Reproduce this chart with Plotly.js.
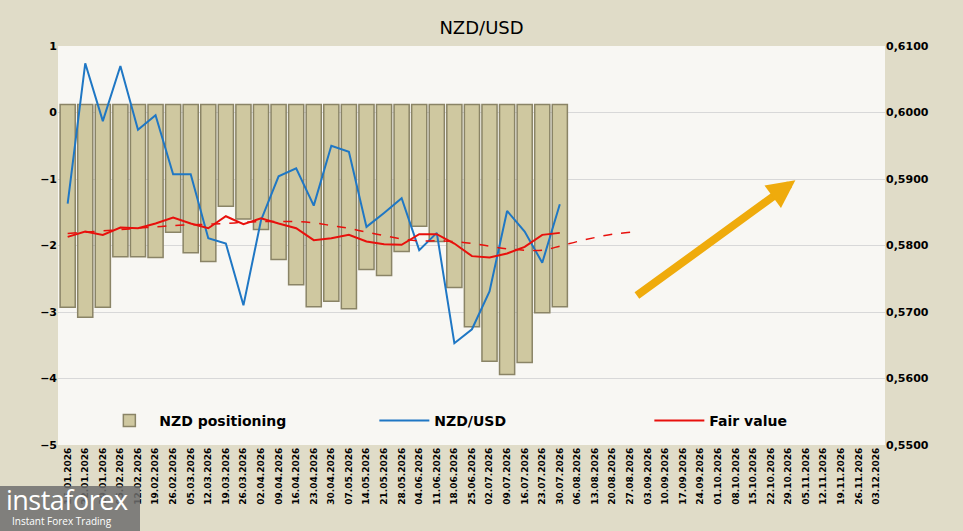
<!DOCTYPE html>
<html>
<head>
<meta charset="utf-8">
<script src="https://cdn.plot.ly/plotly-3.0.1.min.js"></script>
<style>
  body { margin: 0; background: #e0dcc8; }
  #chart { width: 963px; height: 531px; }
  #wm { position: absolute; left: 0; top: 486px; width: 140px; height: 45px; background: rgba(110,110,110,0.85);
        color: #fff; font-family: "Open Sans", sans-serif; }
  #wm .a { font-size: 27px; line-height: 28px; padding-left: 6px; letter-spacing: -0.5px; }
  #wm .b { font-size: 10px; padding-left: 12px; }
</style>
</head>
<body>
<div id="chart"></div>
<div id="wm"><div class="a">instaforex</div><div class="b">Instant Forex Trading</div></div>
<script>
// weekly dates on the x axis
var dates = [];
(function () {
  var d = new Date(Date.UTC(2026, 0, 15));
  for (var i = 0; i < 47; i++) {
    var dd = String(d.getUTCDate()).padStart(2, '0');
    var mm = String(d.getUTCMonth() + 1).padStart(2, '0');
    dates.push(dd + '.' + mm + '.' + d.getUTCFullYear());
    d.setUTCDate(d.getUTCDate() + 7);
  }
})();

// NZD positioning (left axis)
var positioning = [-2.93, -3.08, -2.93, -2.17, -2.17, -2.18, -1.80, -2.11, -2.24, -1.41,
                   -1.60, -1.76, -2.21, -2.59, -2.92, -2.84, -2.95, -2.36, -2.45, -2.09,
                   -1.71, -1.94, -2.63, -3.22, -3.74, -3.94, -3.76, -3.01, -2.92];
var barTop = 0.12;

// NZD/USD (right axis)
var nzdusd = [0.5863, 0.6074, 0.5987, 0.6070, 0.5974, 0.5996, 0.5907, 0.5907, 0.5811, 0.5803,
              0.5710, 0.5838, 0.5904, 0.5916, 0.5860, 0.5950, 0.5941, 0.5828, 0.5849, 0.5871,
              0.5793, 0.5819, 0.5653, 0.5674, 0.5731, 0.5852, 0.5821, 0.5774, 0.5862];

// Fair value (right axis)
var fairValue = [0.5813, 0.5821, 0.5816, 0.5827, 0.5826, 0.5833, 0.5842, 0.5833, 0.5826, 0.5844,
                 0.5832, 0.5841, 0.5833, 0.5826, 0.5808, 0.5811, 0.5816, 0.5806, 0.5802, 0.5801,
                 0.5817, 0.5817, 0.5803, 0.5784, 0.5782, 0.5788, 0.5798, 0.5816, 0.5819];

// Fair value trend (dashed)
var fairTrend = [0.5818, 0.5820, 0.5822, 0.5824, 0.5826, 0.5828, 0.5830, 0.5831, 0.5832, 0.5833,
                 0.5835, 0.5836, 0.5836, 0.5836, 0.5834, 0.5830, 0.5826, 0.5820, 0.5815, 0.5810,
                 0.5807, 0.5807, 0.5806, 0.5803, 0.5799, 0.5795, 0.5793, 0.5793, 0.5799, 0.5806,
                 0.5812, 0.5817, 0.5820];

var idx = function (n) { return Array.from({length: n}, function (_, i) { return i; }); };

var rightTicks = [0.55, 0.56, 0.57, 0.58, 0.59, 0.60, 0.61];

var bars = {
  x: idx(positioning.length), y: positioning.map(function (v) { return v - barTop; }),
  base: barTop, type: 'bar', name: 'NZD positioning', width: 0.86,
  marker: {color: '#cfc8a0', line: {color: '#8a8466', width: 1.5}}
};
var line = {
  x: idx(nzdusd.length), y: nzdusd, yaxis: 'y2', mode: 'lines', name: 'NZD/USD',
  line: {color: '#1f77c4', width: 2}
};
var fair = {
  x: idx(fairValue.length), y: fairValue, yaxis: 'y2', mode: 'lines', name: 'Fair value',
  line: {color: '#e8100c', width: 2}
};
var trend = {
  x: idx(fairTrend.length), y: fairTrend, yaxis: 'y2', mode: 'lines', showlegend: false,
  line: {color: '#e8100c', width: 1.5, dash: 'dash', shape: 'spline'}
};

var layout = {
  width: 963, height: 531,
  margin: {l: 58, r: 78, t: 46, b: 86},
  paper_bgcolor: '#e0dcc8', plot_bgcolor: '#f8f7f3',
  title: {text: 'NZD/USD', x: 0.5, y: 0.96, font: {family: 'Verdana, DejaVu Sans', size: 18, color: '#000'}},
  font: {family: 'Verdana, DejaVu Sans', color: '#000'},
  xaxis: {range: [-0.55, 46.5], tickvals: idx(dates.length), ticktext: dates, tickangle: -90,
          tickfont: {size: 9, family: 'DejaVu Sans', weight: 'bold'}, showgrid: false, zeroline: false, ticks: ''},
  yaxis: {range: [-5, 1], dtick: 1, tickfont: {size: 11, weight: 'bold'}, gridcolor: '#d8d8d8',
          zeroline: false, ticks: ''},
  yaxis2: {range: [0.55, 0.61], overlaying: 'y', side: 'right', showgrid: false, zeroline: false,
           tickvals: rightTicks, ticktext: rightTicks.map(function (v) { return v.toFixed(4).replace('.', ','); }),
           tickfont: {size: 11, weight: 'bold'}, ticks: ''},
  legend: {orientation: 'h', x: 0.05, y: 0.02, yanchor: 'bottom', bgcolor: 'rgba(0,0,0,0)',
           font: {size: 14, weight: 'bold'}, entrywidth: 210, entrywidthmode: 'pixels', itemwidth: 50},
  annotations: [{
    x: 41.4, y: 0.5898, xref: 'x', yref: 'y2', ax: 32.3, ay: 0.5723, axref: 'x', ayref: 'y2',
    showarrow: true, arrowhead: 2, arrowsize: 0.7, arrowwidth: 8, arrowcolor: '#efab0c', text: ''
  }]
};

Plotly.newPlot('chart', [bars, line, fair, trend], layout, {displayModeBar: false});
</script>
</body>
</html>
